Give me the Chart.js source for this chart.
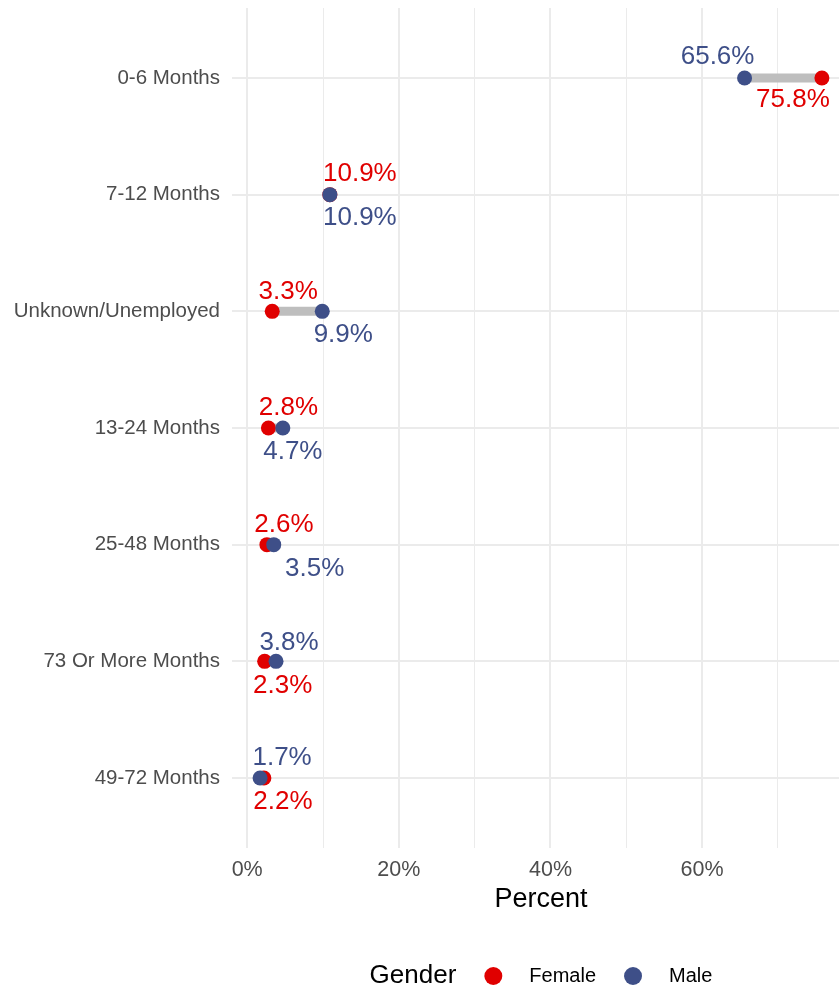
<!DOCTYPE html>
<html><head><meta charset="utf-8">
<script src="https://cdn.jsdelivr.net/npm/chart.js@4"></script>
<style>
html,body{margin:0;padding:0;background:#fff;overflow:hidden;}
#wrap{width:839px;height:992px;overflow:hidden;position:relative;}
canvas{display:block;}
</style>
</head><body><div id="wrap"><canvas id="c" width="851" height="992"></canvas></div>
<script>
// ---- data ----
const categories = ['0-6 Months','7-12 Months','Unknown/Unemployed','13-24 Months','25-48 Months','73 Or More Months','49-72 Months'];
const female = [75.8, 10.9, 3.3, 2.8, 2.6, 2.3, 2.2];
const male   = [65.6, 10.9, 9.9, 4.7, 3.5, 3.8, 1.7];
const seriesNames = ['Female','Male'];
const xTickValues = [0,10,20,30,40,50,60,70];
const xTickLabels = ['0%','','20%','','40%','','60%',''];
const axisTitle = 'Percent';
const legendTitle = 'Gender';

// ---- layout (pixel offsets of value labels from their points) ----
const femaleLabelDX = [-29, 30, 16, 20, 17, 18, 19];
const femaleLabelDY = [ 22,-21,-20,-20,-20, 24, 24];
const maleLabelDX   = [-27, 30, 21, 10, 41, 13, 22];
const maleLabelDY   = [-21, 23, 23, 24, 24,-19,-20];

const RED = '#E00000', BLUE = '#3E4F88', SEG = '#BEBEBE';
const FONT = '"Liberation Sans", Arial, sans-serif';

const segData = [];
categories.forEach((c,i)=>{
  segData.push({x: female[i], y: i});
  segData.push({x: male[i], y: i});
  segData.push({x: male[i], y: null});
});

const overlay = {
  id:'overlay',
  beforeDraw(chart){
    const ctx = chart.ctx;
    ctx.save(); ctx.fillStyle='#fff'; ctx.fillRect(0,0,chart.width,chart.height); ctx.restore();
  },
  afterDatasetsDraw(chart){
    const ctx = chart.ctx, xs = chart.scales.x, ys = chart.scales.y;
    ctx.save();
    ctx.font = '26px ' + FONT;
    ctx.textAlign = 'center'; ctx.textBaseline = 'middle';
    categories.forEach((c,i)=>{
      ctx.fillStyle = RED;
      ctx.fillText(female[i].toFixed(1)+'%', xs.getPixelForValue(female[i]) + femaleLabelDX[i], ys.getPixelForValue(i) + femaleLabelDY[i]);
      ctx.fillStyle = BLUE;
      ctx.fillText(male[i].toFixed(1)+'%', xs.getPixelForValue(male[i]) + maleLabelDX[i], ys.getPixelForValue(i) + maleLabelDY[i]);
    });
    ctx.restore();
  },
  afterDraw(chart){
    const ctx = chart.ctx, ca = chart.chartArea;
    ctx.save();
    const cx = (ca.left + ca.right)/2;
    ctx.fillStyle = '#000';
    ctx.font = '27px ' + FONT;
    ctx.textAlign='center'; ctx.textBaseline='middle';
    ctx.fillText(axisTitle, cx, 900);
    // legend
    const ly = 976;
    ctx.textAlign='left';
    ctx.font = '26px ' + FONT;
    const wTitle = ctx.measureText(legendTitle).width;
    ctx.font = '20px ' + FONT;
    const wF = ctx.measureText(seriesNames[0]).width;
    const wM = ctx.measureText(seriesNames[1]).width;
    const total = wTitle + 28 + 18 + 27 + wF + 28 + 18 + 27 + wM;
    let x = cx - total/2;
    ctx.font = '26px ' + FONT;
    ctx.fillText(legendTitle, x, ly);
    x += wTitle + 28;
    [[RED, seriesNames[0], wF],[BLUE, seriesNames[1], wM]].forEach(([col,name,w])=>{
      ctx.fillStyle = col; ctx.beginPath(); ctx.arc(x+9, ly, 9, 0, Math.PI*2); ctx.fill();
      x += 18 + 27;
      ctx.fillStyle = '#000'; ctx.font = '20px ' + FONT;
      ctx.fillText(name, x, ly);
      x += w + 28;
    });
    ctx.restore();
  }
};

new Chart(document.getElementById('c'), {
  type: 'scatter',
  data: {
    datasets: [
      {label: 'segment', data: segData, showLine: true, spanGaps: false, borderColor: SEG, borderWidth: 9,
       borderCapStyle: 'butt', pointRadius: 0, pointHoverRadius: 0, order: 2},
      {label: seriesNames[0], data: female.map((v,i)=>({x:v, y:i})), backgroundColor: RED, borderWidth: 0,
       pointRadius: 7.5, order: 1},
      {label: seriesNames[1], data: male.map((v,i)=>({x:v, y:i})), backgroundColor: BLUE, borderWidth: 0,
       pointRadius: 7.5, order: 0}
    ]
  },
  options: {
    responsive: false, animation: false, devicePixelRatio: 1,
    layout: {autoPadding: false, padding: {top: 8, right: 1, left: 0, bottom: 0}},
    plugins: {legend: {display: false}, tooltip: {enabled: false}},
    scales: {
      x: {
        type: 'linear', min: -2.005, max: 79.505,
        afterBuildTicks: s => { s.ticks = xTickValues.map(v => ({value: v})); },
        afterFit: s => { s.height = 144; s.paddingLeft = 0; s.paddingRight = 0; },
        border: {display: false},
        grid: {color: '#EBEBEB', drawTicks: false, lineWidth: c => (c.tick && c.tick.value % 20 === 0) ? 2 : 1},
        ticks: {autoSkip: false, maxRotation: 0, padding: 9, color: '#4D4D4D', font: {family: FONT, size: 21.5},
                callback: (v, i) => xTickLabels[i]}
      },
      y: {
        type: 'linear', reverse: true, min: -0.6, max: 6.6,
        afterBuildTicks: s => { s.ticks = categories.map((c, i) => ({value: i})); },
        afterFit: s => { s.width = 232; s.paddingTop = 0; s.paddingBottom = 0; },
        border: {display: false},
        grid: {color: '#EBEBEB', drawTicks: false, lineWidth: 2},
        ticks: {autoSkip: false, padding: 12, color: '#4D4D4D', font: {family: FONT, size: 20.5},
                callback: (v, i) => categories[i]}
      }
    }
  },
  plugins: [overlay]
});
</script>
</body></html>
